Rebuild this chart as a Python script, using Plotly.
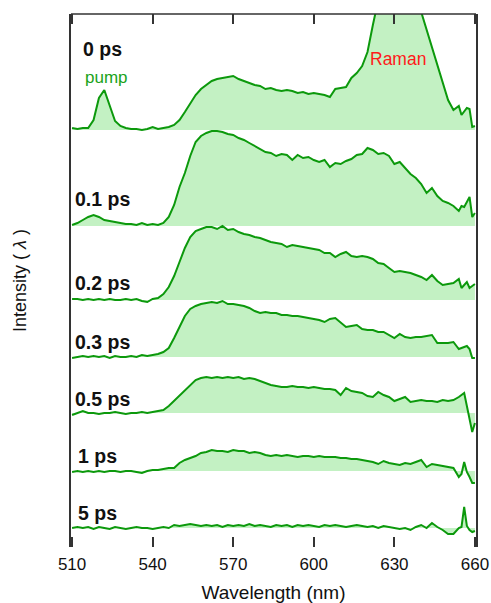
import plotly.graph_objects as go

# Wavelength grid (nm)
wavelength = list(range(510, 654, 2)) + [654, 655, 656, 657, 658, 659, 660]

# Delay labels
delays = ["0 ps", "0.1 ps", "0.2 ps", "0.3 ps", "0.5 ps", "1 ps", "5 ps"]

# Vertical offsets (stacking) for each delay trace
offsets = [417, 321, 247, 190, 134, 76, 19]

# Intensities (arb. units), one list per delay
i_0ps = [2, 1, 2, 2, 10, 32, 40, 24, 9, 4,
         2, 1, 1, 0, 1, 3, 1, 2, 3, 5,
         10, 18, 27, 35, 41, 45, 49, 51, 52, 53,
         54, 51, 49, 47, 45, 44, 41, 42, 40, 39,
         40, 39, 37, 38, 36, 37, 36, 35, 33, 41,
         42, 43, 52, 57, 64, 78, 105, 130, 145, 155,
         160, 160, 155, 145, 135, 118, 100, 84, 66, 47,
         30, 20,
         24, 15, 19, 22, 21, 3, 4]
i_01ps = [1, 3, 6, 9, 11, 9, 6, 5, 4, 3,
          2, 2, 1, 3, 1, 2, 1, 3, 9, 21,
          39, 53, 70, 84, 90, 93, 95, 95, 94, 92,
          91, 88, 86, 83, 80, 77, 74, 73, 70, 72,
          71, 66, 71, 68, 69, 66, 64, 66, 59, 63,
          62, 65, 67, 71, 72, 78, 76, 72, 73, 70,
          62, 64, 58, 52, 48, 42, 33, 38, 30, 25,
          23, 20,
          15, 20, 19, 24, 29, 9, 13]
i_02ps = [1, 1, 0, 1, 0, 1, 0, 1, 0, 0,
          1, 0, 1, -1, -2, 1, 2, 6, 13, 24,
          38, 52, 63, 69, 71, 73, 73, 71, 74, 70,
          71, 68, 66, 65, 63, 62, 60, 58, 57, 56,
          53, 55, 54, 53, 52, 51, 50, 47, 47, 43,
          46, 48, 44, 43, 44, 43, 41, 37, 36, 32,
          28, 29, 28, 27, 25, 23, 20, 25, 19, 15,
          16, 17,
          21, 12, 15, 18, 12, 14, 16]
i_03ps = [-1, 0, 1, 0, 1, 0, 1, -1, 1, 0,
          0, 1, 0, 2, 1, 2, 3, 5, 9, 19,
          30, 41, 48, 51, 53, 54, 55, 54, 56, 53,
          53, 52, 51, 49, 46, 44, 45, 44, 44, 42,
          42, 41, 41, 40, 39, 38, 37, 35, 38, 39,
          34, 30, 31, 32, 28, 27, 27, 25, 25, 22,
          19, 23, 20, 19, 20, 20, 21, 22, 14, 14,
          14, 15,
          8, 9, 10, 11, 8, -1, -1]
i_05ps = [-2, 0, 2, 0, 0, -1, 0, 0, 1, 0,
          -1, 0, 0, 1, 0, 1, 2, 3, 7, 12,
          17, 23, 28, 33, 35, 36, 35, 36, 35, 36,
          35, 36, 34, 35, 34, 32, 30, 28, 27, 26,
          26, 27, 26, 26, 25, 26, 25, 24, 24, 23,
          18, 25, 22, 21, 20, 17, 16, 21, 18, 16,
          12, 14, 16, 11, 12, 13, 12, 12, 11, 13,
          12, 13,
          16, 18, 20, 7, -6, -19, -10]
i_1ps = [-1, 0, -1, 0, -1, 0, -1, 0, 0, -1,
         0, 0, -1, -2, 0, 1, 1, 2, 3, 3,
         8, 11, 13, 15, 18, 19, 21, 20, 20, 19,
         21, 20, 20, 18, 19, 18, 16, 15, 16, 15,
         16, 15, 14, 15, 15, 14, 15, 14, 14, 14,
         13, 13, 12, 12, 11, 10, 9, 7, 10, 8,
         7, 6, 8, 7, 9, 11, 4, 7, 6, 5,
         4, 3,
         -6, -3, 9, -1, -6, -12, -12]
i_5ps = [0, 1, 0, 1, -1, 1, 0, -1, 1, 0,
         -1, 0, 1, 0, 0, -1, 0, 1, 0, 3,
         2, 3, 4, 3, 2, 3, 2, 3, 1, 3,
         2, 3, 2, 4, 2, 3, 2, 1, 3, 2,
         3, 1, 3, 2, 3, 2, 1, 3, 2, 3,
         2, 1, 2, 3, 2, 1, 2, 0, 2, 1,
         0, -1, 0, -2, 1, 3, 0, 5, 1, -2,
         -6, -6,
         0, 1, 21, 2, -2, -4, -3]

spectra = [i_0ps, i_01ps, i_02ps, i_03ps, i_05ps, i_1ps, i_5ps]

x_ticks = [510, 540, 570, 600, 630, 660]

LINE = "#0c990c"
FILL = "#c3f1c3"
FONT = "Liberation Sans, Arial, Helvetica, sans-serif"
AX = "#333333"

fig = go.Figure()
for name, vals, off in zip(delays, spectra, offsets):
    fig.add_trace(go.Scatter(
        x=wavelength, y=[off] * len(wavelength), mode="lines",
        line=dict(width=0, color=FILL), hoverinfo="skip", showlegend=False))
    fig.add_trace(go.Scatter(
        x=wavelength, y=[off + v for v in vals], mode="lines", name=name,
        line=dict(color=LINE, width=2), fill="tonexty", fillcolor=FILL,
        showlegend=False))

# Delay labels
label_pos = [(513.2, 498.5), (510.4, 348.5), (510.4, 264), (510.3, 205.5),
             (510.3, 148.5), (511.5, 91), (511.5, 34.5)]
for name, (lx, ly) in zip(delays, label_pos):
    fig.add_annotation(x=lx, y=ly, text="<b>%s</b>" % name, showarrow=False,
                       xanchor="left", yanchor="middle",
                       font=dict(family=FONT, size=19.5, color="#111111"))

fig.add_annotation(x=514, y=470, text="pump", showarrow=False,
                   xanchor="left", yanchor="middle",
                   font=dict(family=FONT, size=17, color="#1aa31a"))
fig.add_annotation(x=631.2, y=488.5, text="Raman", showarrow=False,
                   xanchor="center", yanchor="middle",
                   font=dict(family=FONT, size=17.5, color="#ff1a1a"))

fig.add_shape(type="line", xref="paper", yref="paper", x0=0, x1=1, y0=1, y1=1,
              line=dict(color=AX, width=1.5))

fig.update_layout(
    width=491, height=603, autosize=False,
    margin=dict(l=71, r=15, t=14, b=56),
    paper_bgcolor="white", plot_bgcolor="white",
    font=dict(family=FONT, color="#111111"),
    xaxis=dict(range=[509.6, 660.4], tickvals=x_ticks,
               ticktext=[str(t) for t in x_ticks], automargin=False,
               ticks="inside", ticklen=10, tickwidth=1.5, tickcolor=AX,
               ticklabelstandoff=5,
               mirror="ticks", showline=False, showgrid=False, zeroline=False,
               tickfont=dict(family=FONT, size=17, color="#111111"),
               title=dict(text="Wavelength (nm)", standoff=18,
                          font=dict(family=FONT, size=19, color="#111111"))),
    yaxis=dict(range=[0, 533], showticklabels=False, ticks="", automargin=False,
               showline=True, mirror=True, linecolor=AX, linewidth=1.5,
               showgrid=False, zeroline=False,
               title=dict(text="Intensity ( <i>λ</i> )", standoff=38,
                          font=dict(family=FONT, size=18, color="#111111"))),
)

fig.write_html("out.html")
